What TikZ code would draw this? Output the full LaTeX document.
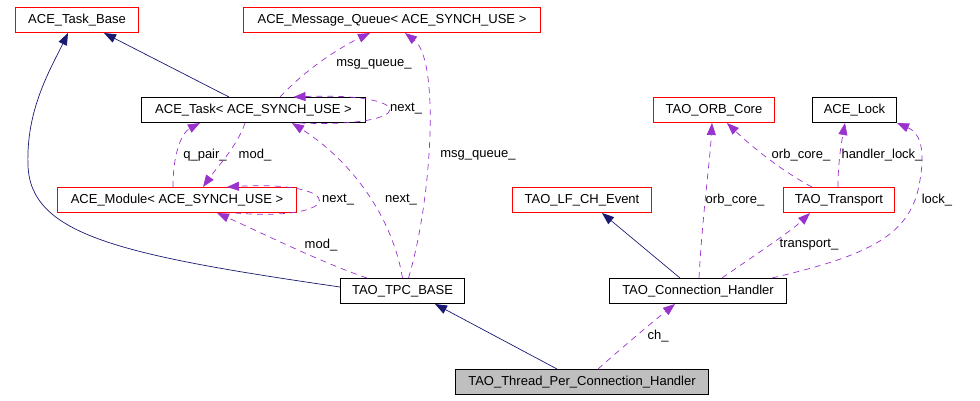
\documentclass[tikz,border=0pt]{standalone}
\usepackage{fontspec}
\setmainfont{Liberation Sans}
\usetikzlibrary{arrows.meta}
\definecolor{boxred}{HTML}{FF0000}
\definecolor{inhblue}{HTML}{191970}
\definecolor{usepurple}{HTML}{9A32CD}
\definecolor{selfgray}{HTML}{BFBFBF}
\tikzset{
  cls/.style={draw=black, line width=1pt, minimum height=25pt, inner xsep=2pt, inner ysep=0pt, font=\fontsize{13}{15}\selectfont},
  ext/.style={cls, draw=boxred},
  inherit/.style={draw=inhblue, line width=0.7pt, -{Triangle[length=12pt,width=9pt]}},
  member/.style={draw=usepurple, line width=0.7pt, dash pattern=on 6pt off 5pt, -{Triangle[length=12pt,width=9pt]}},
  lbl/.style={font=\fontsize{13}{15}\selectfont, inner sep=1pt},
}

\begin{document}
\begin{tikzpicture}[x=1pt,y=-1pt]
  \useasboundingbox (0,0) rectangle (980,400);

  % classes
  \node[ext, minimum width=123pt] (taskbase) at (77,20) {ACE\_Task\_Base};
  \node[ext, minimum width=297pt] (msgq) at (392,20) {ACE\_Message\_Queue< ACE\_SYNCH\_USE >};
  \node[cls, minimum width=224pt] (task) at (253.5,110) {ACE\_Task< ACE\_SYNCH\_USE >};
  \node[ext, minimum width=121pt] (orbcore) at (714,110) {TAO\_ORB\_Core};
  \node[cls, minimum width=84pt] (acelock) at (854.5,110) {ACE\_Lock};
  \node[ext, minimum width=239pt] (module) at (177,200) {ACE\_Module< ACE\_SYNCH\_USE >};
  \node[ext, minimum width=139pt] (lfevent) at (582,200) {TAO\_LF\_CH\_Event};
  \node[ext, minimum width=111pt] (transport) at (839,200) {TAO\_Transport};
  \node[cls, minimum width=124pt] (tpcbase) at (402.5,291) {TAO\_TPC\_BASE};
  \node[cls, minimum width=177pt] (connh) at (698,291) {TAO\_Connection\_Handler};
  \node[cls, fill=selfgray, minimum width=253pt] (tpch) at (582,382) {TAO\_Thread\_Per\_Connection\_Handler};

  % inheritance
  \draw[inherit] ([xshift=-24.5pt]task.north) -- ([xshift=27pt]taskbase.south);
  \draw[inherit] ([yshift=4pt]tpcbase.west) .. controls (120,255) and (30,235) .. (28,165)
    .. controls (26,110) and (50,70) .. ([xshift=-9pt]taskbase.south);
  \draw[inherit] ([xshift=-25pt]tpch.north) -- ([xshift=32.5pt]tpcbase.south);
  \draw[inherit] ([xshift=-18pt]connh.north) -- ([xshift=20pt]lfevent.south);

  % members, left part
  \draw[member] ([xshift=26.5pt]task.north) .. controls (310,65) and (345,45) .. ([xshift=-22pt]msgq.south);
  \node[lbl] (lqueue) at (374,64) {msg\_queue\_};
  \draw[member] ([xshift=46pt]task.south) .. controls (419,128) and (419,92) .. ([xshift=40pt]task.north);
  \node[lbl, anchor=west] (lnexttask) at (389,109) {next\_};
  \draw[member] ([xshift=-4pt]module.north) .. controls (173,150) and (183,132) .. ([xshift=-53.5pt]task.south);
  \node[lbl] (lqpair) at (205,155) {q\_pair\_};
  \draw[member] ([xshift=-8.5pt]task.south) .. controls (238,145) and (215,170) .. ([xshift=26pt]module.north);
  \node[lbl] (lmodtask) at (255,155) {mod\_};
  \draw[member] (tpcbase.north) .. controls (392,215) and (350,160) .. ([xshift=38.5pt]task.south);
  \node[lbl] (lnexttpc) at (401,200) {next\_};
  \draw[member] ([xshift=6pt]tpcbase.north) .. controls (432,200) and (440,60) .. ([xshift=13pt]msgq.south);
  \node[lbl] (lqueuetpc) at (478,155) {msg\_queue\_};
  \draw[member] ([xshift=58pt]module.south) .. controls (347,222) and (347,180) .. ([xshift=50pt]module.north);
  \node[lbl, anchor=west] (lnextmod) at (321,200) {next\_};
  \draw[member] ([xshift=-35.5pt]tpcbase.north) .. controls (320,262) and (260,232) .. ([xshift=40pt]module.south);
  \node[lbl] (lmodtpc) at (321,245) {mod\_};

  % members, right part
  \draw[member] ([xshift=1pt]connh.north) .. controls (702,220) and (710,160) .. ([xshift=-2pt]orbcore.south);
  \node[lbl] (lorbconn) at (735,200) {orb\_core\_};
  \draw[member] ([xshift=-27pt]transport.north) .. controls (780,170) and (750,145) .. ([xshift=13pt]orbcore.south);
  \node[lbl] (lorbtrans) at (801,155) {orb\_core\_};
  \draw[member] ([xshift=-1pt]transport.north) .. controls (838,160) and (842,140) .. ([xshift=-9.5pt]acelock.south);
  \node[lbl] (lhlock) at (882,155) {handler\_lock\_};
  \draw[member] ([xshift=24pt]connh.north) .. controls (755,255) and (790,232) .. ([xshift=-29pt]transport.south);
  \node[lbl] (ltransport) at (809,245) {transport\_};
  \draw[member] ([xshift=74pt]connh.north) .. controls (870,255) and (912,235) .. (920,180)
    .. controls (926,145) and (918,132) .. (acelock.south east);
  \node[lbl] (llock) at (937,200) {lock\_};
  \draw[member] ([xshift=16pt]tpch.north) .. controls (625,345) and (655,320) .. ([xshift=-23pt]connh.south);
  \node[lbl] (lch) at (658,336) {ch\_};
\end{tikzpicture}
\end{document}
